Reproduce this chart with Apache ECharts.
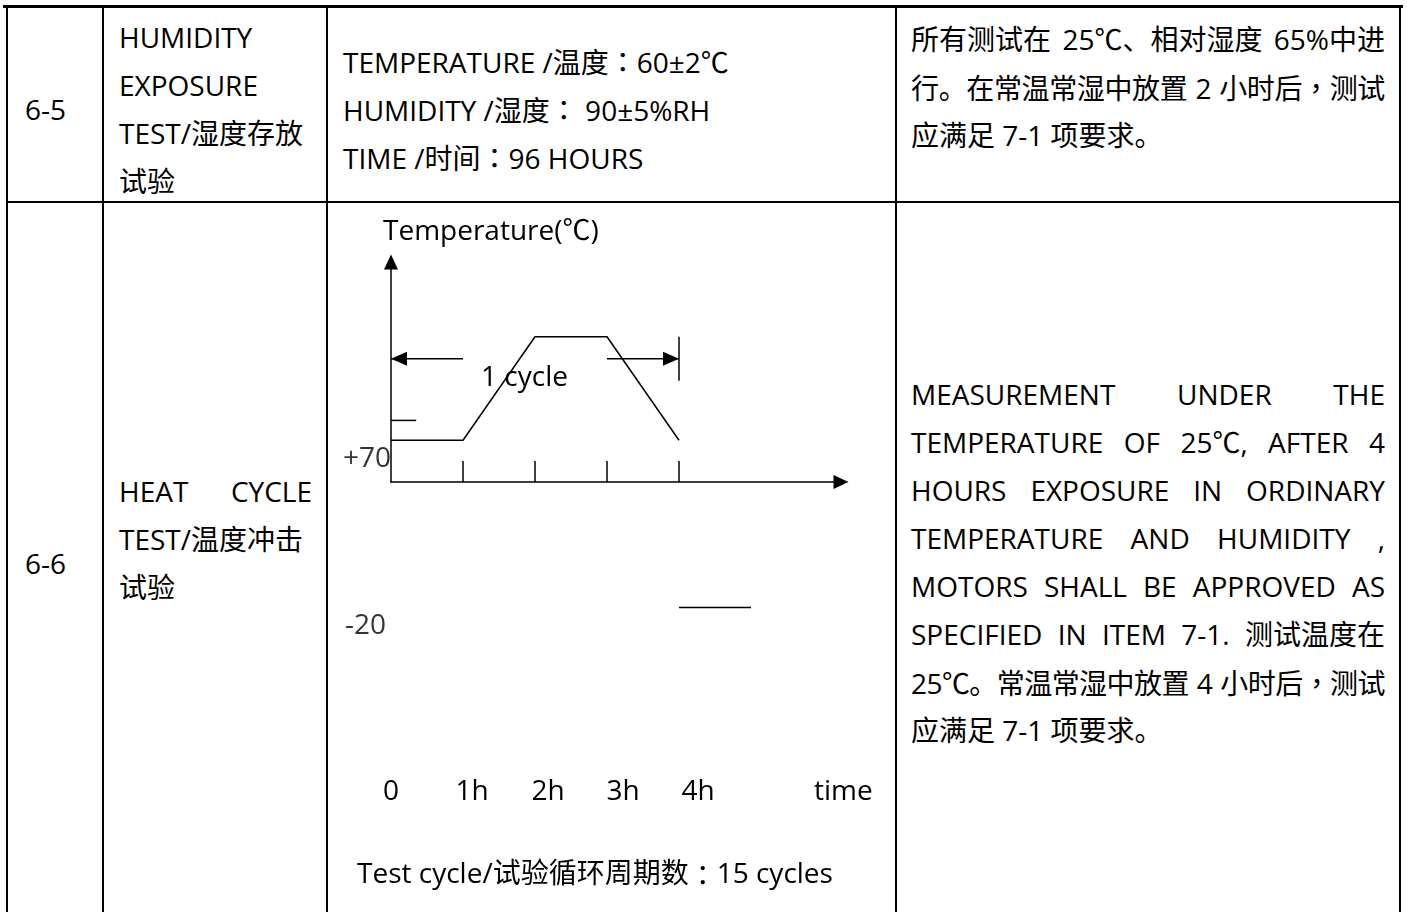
<!DOCTYPE html>
<html>
<head>
<meta charset="utf-8">
<script src="https://cdn.jsdelivr.net/npm/echarts@6/dist/echarts.min.js"></script>
<style>
  html, body { margin: 0; padding: 0; background: #fff; }
  #page { position: relative; width: 1407px; height: 912px; overflow: hidden; background: #fff;
          font-family: "Open Sans", "Noto Sans CJK SC", sans-serif; font-size: 28px; color: #000; }
  .b { position: absolute; background: #000; }
  .t { position: absolute; line-height: 48px; white-space: nowrap; }
  .t > div { height: 48px; }
  .j { text-align: justify; text-align-last: justify; }
  .w { display: inline-block; }
  .p { font-family: "Noto Sans CJK TC", "Noto Sans CJK SC", sans-serif; }
  #chart { position: absolute; left: 0; top: 0; width: 1407px; height: 912px; z-index: 2; }
</style>
</head>
<body>
<div id="page">
  <!-- table rules -->
  <div class="b" style="left:3px; top:5px; width:1400px; height:3px;"></div>
  <div class="b" style="left:6px; top:5px; width:2px; height:907px;"></div>
  <div class="b" style="left:102px; top:5px; width:2px; height:907px;"></div>
  <div class="b" style="left:326px; top:5px; width:2px; height:907px;"></div>
  <div class="b" style="left:895px; top:5px; width:2px; height:907px;"></div>
  <div class="b" style="left:1399px; top:5px; width:2px; height:907px;"></div>
  <div class="b" style="left:6px; top:201px; width:1395px; height:2px;"></div>

  <!-- row 6-5 -->
  <div class="t" style="left:25px; top:85px;">6-5</div>
  <div class="t" style="left:119px; top:13px; width:193px;">
    <div>HUMIDITY</div><div>EXPOSURE</div><div>TEST/湿度存放</div><div>试验</div>
  </div>
  <div class="t" style="left:343px; top:37px;">
    <div>TEMPERATURE /温度<span class="p">：</span>60±2℃</div>
    <div>HUMIDITY /湿度<span class="p">：</span> 90±5%RH</div>
    <div>TIME /时间<span class="p">：</span>96 HOURS</div>
  </div>
  <div class="t" style="left:911px; top:15px; width:474px;">
    <div class="j"><span class="w">所有测试在</span> <span class="w">25℃、相对湿度</span> <span class="w">65%中进</span></div>
    <div class="j"><span class="w">行。在常温常湿中放置</span> 2 <span class="w">小时后<span class="p">，</span>测试</span></div>
    <div>应满足 7-1 项要求。</div>
  </div>

  <!-- row 6-6 -->
  <div class="t" style="left:25px; top:539px;">6-6</div>
  <div class="t" style="left:119px; top:467px; width:193px;">
    <div class="j">HEAT CYCLE</div><div>TEST/温度冲击</div><div>试验</div>
  </div>
  <div class="t" style="left:911px; top:370px; width:474px;">
    <div class="j">MEASUREMENT UNDER THE</div>
    <div class="j">TEMPERATURE OF <span class="w">25℃,</span> AFTER 4</div>
    <div class="j">HOURS EXPOSURE IN ORDINARY</div>
    <div class="j">TEMPERATURE AND HUMIDITY ,</div>
    <div class="j">MOTORS SHALL BE APPROVED AS</div>
    <div class="j">SPECIFIED IN ITEM 7-1. <span class="w">测试温度在</span></div>
    <div class="j"><span class="w">25℃。常温常湿中放置</span> 4 <span class="w">小时后<span class="p">，</span>测试</span></div>
    <div>应满足 7-1 项要求。</div>
  </div>

  <div id="chart"></div>
</div>

<script>
// shrink justified lines that are naturally wider than their cell
document.querySelectorAll('.j').forEach(el => {
  const w = el.clientWidth;
  el.style.textAlignLast = 'left';
  el.style.textAlign = 'left';
  const sp = document.createElement('span');
  while (el.firstChild) sp.appendChild(el.firstChild);
  el.appendChild(sp);
  const natural = sp.getBoundingClientRect().width;
  const n = sp.textContent.length;
  if (natural > w - 1 && n > 1) el.style.letterSpacing = (-(natural - w + 2) / (n - 1)) + 'px';
  el.style.textAlignLast = '';
  el.style.textAlign = '';
});

// ---- data (hours on x, schematic temperature level on y) ----
const hourTicks = [1, 2, 3, 4];
const hourLabelValues = [0, 1, 2, 3, 4];
const hourLabels = ['0', '1h', '2h', '3h', '4h'];
const axisNameX = 'time';
const axisNameY = 'Temperature(℃)';

const profileHours = [0, 1, 2, 3, 4];
const profileLevels = [19, 19, 66, 66, 19];

const startMarkHours = [0, 0.35];
const startMarkLevels = [28, 28];

const lowMarkHours = [4, 5];
const lowMarkLevels = [-57, -57];

const cycleEndHours = [4, 4];
const cycleEndLevels = [46, 66];

const leftArrowHours = [0, 1];
const rightArrowHours = [3, 4];
const arrowLevel = 56;

const levelLabels = ['+70', '-20'];
const levelLabelLevels = [19, -57];

const cycleText = '1 cycle';
const footParts = ['Test cycle/试验循环周期数', '：', '15 cycles'];

// ---- styles ----
const FONT = '"Open Sans", "Noto Sans CJK SC", sans-serif';
const FONT_P = '"Noto Sans CJK TC", "Noto Sans CJK SC", sans-serif';
const INK = '#000';
const LW = 1.5;
const labelShift = [0, 9, 13, 16, 19];   // visual offsets of tick labels in the original drawing
const levelLabelGap = [0, 5];

function pairs(xs, ys) { return xs.map((x, i) => [x, ys[i]]); }

const rich = {};
labelShift.forEach((s, i) => {
  rich['s' + i] = { fontSize: 28, fontFamily: FONT, color: INK, padding: [0, 0, 0, 2 * s] };
});

const lineBase = {
  type: 'line', symbol: 'none', clip: false, silent: true, animation: false,
  lineStyle: { color: INK, width: LW }, itemStyle: { color: INK }
};

const chart = echarts.init(document.getElementById('chart'), null, { renderer: 'canvas' });
chart.setOption({
  backgroundColor: 'transparent',
  animation: false,
  textStyle: { fontFamily: FONT, color: INK },
  title: [
    { text: cycleText, left: 481, top: 364, padding: 0,
      textStyle: { fontSize: 28, fontWeight: 'normal', fontFamily: FONT, color: INK } },
    { text: '{a|' + footParts[0] + '}{p|' + footParts[1] + '}{a|' + footParts[2] + '}', left: 357, top: 861, padding: 0,
      textStyle: { fontSize: 28, fontWeight: 'normal', fontFamily: FONT, color: INK,
        rich: { a: { fontSize: 28, fontFamily: FONT, color: INK }, p: { fontSize: 28, fontFamily: FONT_P, color: INK } } } }
  ],
  grid: { left: 391, top: 262, width: 450, height: 220, containLabel: false, outerBoundsMode: 'none' },
  xAxis: {
    type: 'value', min: 0, max: 6.25, position: 'bottom',
    axisLine: { show: true, onZero: false, symbol: ['none', 'triangle'], symbolSize: [14, 15],
                lineStyle: { color: INK, width: LW } },
    axisTick: { show: true, inside: true, length: 21, customValues: hourTicks,
                lineStyle: { color: INK, width: LW } },
    axisLabel: { show: true, customValues: hourLabelValues, margin: 296,
                 formatter: v => { const i = hourLabelValues.indexOf(v); return '{s' + i + '|' + hourLabels[i] + '}'; },
                 rich: rich, fontSize: 28, color: INK },
    splitLine: { show: false },
    name: axisNameX, nameLocation: 'end', nameGap: -27, nameMoveOverlap: false,
    nameTextStyle: { fontSize: 28, fontFamily: FONT, color: INK, align: 'left', verticalAlign: 'top', padding: [296, 0, 0, 0] }
  },
  yAxis: {
    type: 'value', min: 0, max: 100,
    axisLine: { show: true, onZero: false, symbol: ['none', 'triangle'], symbolSize: [14, 15],
                lineStyle: { color: INK, width: LW } },
    axisTick: { show: false }, axisLabel: { show: false }, splitLine: { show: false },
    name: axisNameY, nameLocation: 'end', nameGap: 16, nameMoveOverlap: false,
    nameTextStyle: { fontSize: 28, fontFamily: FONT, color: INK, align: 'left', padding: [0, 0, 0, -8] }
  },
  series: [
    Object.assign({}, lineBase, { name: 'profile', data: pairs(profileHours, profileLevels) }),
    Object.assign({}, lineBase, { name: 'startMark', data: pairs(startMarkHours, startMarkLevels) }),
    Object.assign({}, lineBase, { name: 'lowMark', data: pairs(lowMarkHours, lowMarkLevels) }),
    Object.assign({}, lineBase, { name: 'cycleEnd', data: pairs(cycleEndHours, cycleEndLevels) }),
    Object.assign({}, lineBase, { name: 'leftArrow', data: [
      { value: [leftArrowHours[0], arrowLevel], symbol: 'triangle', symbolRotate: 90, symbolSize: [14, 16], symbolOffset: [8, 0] },
      { value: [leftArrowHours[1], arrowLevel] }
    ] }),
    Object.assign({}, lineBase, { name: 'rightArrow', data: [
      { value: [rightArrowHours[0], arrowLevel] },
      { value: [rightArrowHours[1], arrowLevel], symbol: 'triangle', symbolRotate: -90, symbolSize: [14, 16], symbolOffset: [-8, 0] }
    ] }),
    {
      type: 'scatter', name: 'levelLabels', silent: true, animation: false, clip: false,
      symbolSize: 0, itemStyle: { color: 'transparent' },
      data: levelLabelLevels.map((v, i) => ({ value: [0, v], name: levelLabels[i],
              label: { distance: levelLabelGap[i] } })),
      label: { show: true, position: 'left', distance: 0, offset: [0, 19],
               formatter: p => p.name, fontSize: 28, fontFamily: FONT, color: INK }
    }
  ]
});
</script>
</body>
</html>
